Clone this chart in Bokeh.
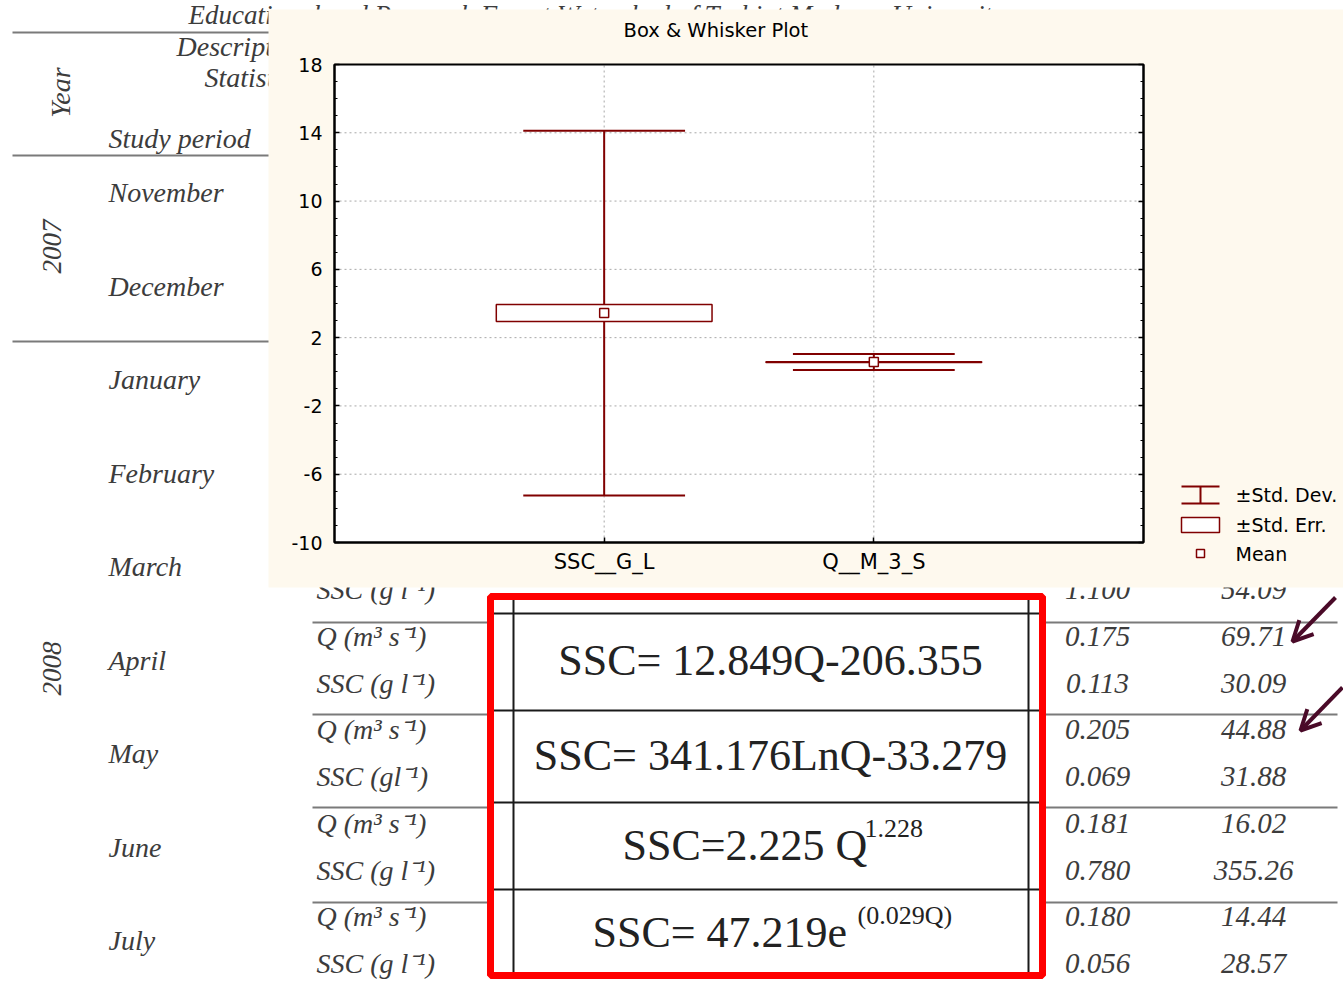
import math

from bokeh.core.properties import value
from bokeh.embed import file_html
from bokeh.models import Arrow, ColumnDataSource, FixedTicker, LinearAxis, OpenHead, Range1d
from bokeh.plotting import figure
from bokeh.resources import INLINE

# Summary statistics of the two monitored variables
variables = ["SSC__G_L", "Q__M_3_S"]
means = [3.44, 0.57]
std_devs = [10.68, 0.47]
std_errs = [0.50, 0.022]

y_ticks = [-10, -6, -2, 2, 6, 10, 14, 18]
legend_labels = ["±Std. Dev.", "±Std. Err.", "Mean"]
chart_title = "Box & Whisker Plot"

# Rating-curve table printed beneath the chart
table_caption = "Educational and Research Forest Watershed of Tarbiat Modares University"
header_lines = ["Descriptive", "Statistics"]
side_header = "Year"
period_header = "Study period"
months = ["November", "December", "January", "February", "March",
          "April", "May", "June", "July"]
years = ["2007", "2008"]
units = ["SSC (g l⁻¹)", "Q (m³ s⁻¹)", "SSC (g l⁻¹)", "Q (m³ s⁻¹)", "SSC (gl⁻¹)",
         "Q (m³ s⁻¹)", "SSC (g l⁻¹)", "Q (m³ s⁻¹)", "SSC (g l⁻¹)"]
col_a = ["1.100", "0.175", "0.113", "0.205", "0.069", "0.181", "0.780", "0.180", "0.056"]
col_b = ["54.09", "69.71", "30.09", "44.88", "31.88", "16.02", "355.26", "14.44", "28.57"]
equations = ["SSC= 12.849Q-206.355", "SSC= 341.176LnQ-33.279", "SSC=2.225 Q", "SSC= 47.219e"]
exponents = ["", "", "1.228", "(0.029Q)"]

SANS_NAME = "DejaVu Sans"
SANS = value(SANS_NAME)
SERIF = value("Liberation Serif")
MAROON = "#800000"
CREAM = "#FEF9EE"
INK = "#3c3c3c"
RULE = "#7a7a7a"
ARROW_INK = "#4A0A28"

# Page canvas: x to the right, y downwards, one unit per pixel
W, H = 1343, 990
p = figure(width=W, height=H, x_range=Range1d(0, W), y_range=Range1d(H, 0),
           x_axis_type=None, y_axis_type=None, min_border=0, toolbar_location=None,
           output_backend="svg", background_fill_color="white", border_fill_color="white",
           outline_line_color=None)


def serif_text(xs, ys, texts, size, align="left", angle=0.0, style="italic",
               color=INK, baseline="middle"):
    p.text(x=xs, y=ys, text=texts, angle=angle, text_font=SERIF, text_font_style=style,
           text_font_size=size, text_color=color, text_align=align, text_baseline=baseline)


# ---------------- printed table (background) ----------------
serif_text([188], [14], [table_caption], "27px")
p.segment(x0=[12, 12, 12], y0=[32, 155, 341], x1=[300, 300, 300], y1=[32, 155, 341],
          line_color=RULE, line_width=2)
serif_text([176, 204], [46, 77], header_lines, "28px")
serif_text([108], [138], [period_header], "28px")
serif_text([60], [92], [side_header], "28px", align="center", angle=math.pi / 2)
month_y = [192 + 93.5 * i for i in range(len(months))]
serif_text([108] * len(months), month_y, months, "28px")
serif_text([51, 51], [246, 668], years, "27px", align="center", angle=math.pi / 2)

unit_y = [589 + 46.75 * i for i in range(len(units))]
serif_text([316] * len(units), unit_y, units, "28px")
serif_text([1097] * len(col_a), unit_y, col_a, "29px", align="center")
serif_text([1253] * len(col_b), unit_y, col_b, "29px", align="center")

rule_y = [622, 714, 807, 902]
p.segment(x0=[312] * 4, y0=rule_y, x1=[490] * 4, y1=rule_y, line_color=RULE, line_width=2)
p.segment(x0=[1042] * 4, y0=rule_y, x1=[1337] * 4, y1=rule_y, line_color=RULE, line_width=2)

cell_y = [613, 710, 802, 889]
p.segment(x0=[493] * 4, y0=cell_y, x1=[1039] * 4, y1=cell_y, line_color="#1a1a1a", line_width=2)
p.segment(x0=[513, 1028], y0=[599, 599], x1=[513, 1028], y1=[972, 972],
          line_color="#1a1a1a", line_width=2)

serif_text([770, 770], [660, 755], equations[:2], "44px", align="center",
           style="normal", color="#222222")
serif_text([622, 592], [845, 932], equations[2:], "44px", style="normal", color="#222222")
serif_text([864, 857], [828, 915], exponents[2:], "26px", style="normal", color="#222222")

p.quad(left=[490], right=[1042], top=[596], bottom=[975], fill_color=None,
       line_color="#ff0000", line_width=7)

for xs0, ys0, xe, ye in [(1335, 597, 1292, 641), (1342, 687, 1300, 730)]:
    p.add_layout(Arrow(end=OpenHead(size=20, line_color=ARROW_INK, line_width=4),
                       x_start=xs0, y_start=ys0, x_end=xe, y_end=ye,
                       line_color=ARROW_INK, line_width=4))

# ---------------- chart panel ----------------
PANEL_L, PANEL_T, PANEL_R, PANEL_B = 268, 9, 1343, 587
FRAME_L, FRAME_T, FRAME_R, FRAME_B = 334, 64, 1143, 542
p.quad(left=[PANEL_L], right=[PANEL_R], top=[PANEL_T], bottom=[PANEL_B],
       fill_color=CREAM, line_color=None)

# data scales of the box plot, placed on the frame rectangle
xs = list(range(1, len(variables) + 1))
XMIN, XMAX = 0, len(variables) + 1
YMIN, YMAX = y_ticks[0], y_ticks[-1]
kx = (FRAME_R - FRAME_L) / (XMAX - XMIN)
ky = (FRAME_B - FRAME_T) / (YMAX - YMIN)
p.extra_x_ranges = {"bx": Range1d(XMIN - FRAME_L / kx, XMAX + (W - FRAME_R) / kx)}
p.extra_y_ranges = {"by": Range1d(YMIN - (H - FRAME_B) / ky, YMAX + FRAME_T / ky)}
BX = dict(x_range_name="bx", y_range_name="by")

p.quad(left=[XMIN], right=[XMAX], bottom=[YMIN], top=[YMAX], fill_color="white",
       line_color=None, **BX)

# dotted grid at the major ticks
inner = y_ticks[1:-1]
p.segment(x0=[XMIN] * len(inner), x1=[XMAX] * len(inner), y0=inner, y1=inner,
          line_color="#a8a8a8", line_dash="2 3", line_width=1, **BX)
p.segment(x0=xs, x1=xs, y0=[YMIN] * len(xs), y1=[YMAX] * len(xs),
          line_color="#a8a8a8", line_dash="2 3", line_width=1, **BX)

CAP = 0.30
BOX = 0.40
src = ColumnDataSource(dict(
    x=xs,
    mean=means,
    sd_lo=[m - s for m, s in zip(means, std_devs)],
    sd_hi=[m + s for m, s in zip(means, std_devs)],
    se_lo=[m - s for m, s in zip(means, std_errs)],
    se_hi=[m + s for m, s in zip(means, std_errs)],
    cap_l=[x - CAP for x in xs],
    cap_r=[x + CAP for x in xs],
    box_l=[x - BOX for x in xs],
    box_r=[x + BOX for x in xs],
))

p.segment(x0="x", y0="sd_lo", x1="x", y1="sd_hi", source=src, line_color=MAROON, line_width=2, **BX)
p.segment(x0="cap_l", y0="sd_hi", x1="cap_r", y1="sd_hi", source=src, line_color=MAROON,
          line_width=2, **BX)
p.segment(x0="cap_l", y0="sd_lo", x1="cap_r", y1="sd_lo", source=src, line_color=MAROON,
          line_width=2, **BX)
p.quad(left="box_l", right="box_r", bottom="se_lo", top="se_hi", source=src,
       fill_color="white", line_color=MAROON, line_width=1.5, **BX)
p.scatter(x="x", y="mean", source=src, marker="square", size=9,
          fill_color="white", line_color=MAROON, line_width=1.5, **BX)

# frame outline
p.quad(left=[XMIN], right=[XMAX], bottom=[YMIN], top=[YMAX], fill_color=None,
       line_color="black", line_width=2, **BX)

minor = list(range(YMIN, YMAX + 1))


def box_axis(fixed, bounds, ticker, label_color="black", **kw):
    return LinearAxis(fixed_location=fixed, bounds=bounds, ticker=ticker,
                      axis_line_width=2, axis_line_color="black",
                      major_tick_in=5, major_tick_out=0, minor_tick_in=3, minor_tick_out=0,
                      major_tick_line_width=1.5, major_label_text_font=SANS_NAME,
                      major_label_text_color=label_color, **BX, **kw)


p.add_layout(box_axis(XMIN, (YMIN, YMAX), FixedTicker(ticks=y_ticks, minor_ticks=minor),
                      major_label_overrides={t: str(t) for t in y_ticks},
                      major_label_text_font_size="19px", major_label_standoff=12), "left")
p.add_layout(box_axis(XMAX, (YMIN, YMAX), FixedTicker(ticks=y_ticks, minor_ticks=minor),
                      label_color=None), "right")
p.add_layout(box_axis(YMIN, (XMIN, XMAX), FixedTicker(ticks=xs),
                      major_label_overrides={x: name for x, name in zip(xs, variables)},
                      major_label_text_font_size="21px", major_label_standoff=7), "below")

# title and legend inside the panel
p.text(x=[623], y=[30], text=[chart_title], text_font=SANS, text_font_size="19.5px",
       text_color="black", text_baseline="middle")

p.segment(x0=[1181, 1181, 1200], y0=[486, 503, 486], x1=[1219, 1219, 1200], y1=[486, 503, 503],
          line_color=MAROON, line_width=2)
p.quad(left=[1181], right=[1219], top=[517], bottom=[532], fill_color="white",
       line_color=MAROON, line_width=1.5)
p.scatter(x=[1200], y=[553], marker="square", size=8, fill_color="white",
          line_color=MAROON, line_width=1.5)
p.text(x=[1235] * 3, y=[494, 524, 553], text=legend_labels, text_font=SANS,
       text_font_size="19px", text_color="black", text_baseline="middle")

open("out.html", "w").write(file_html(p, INLINE))
